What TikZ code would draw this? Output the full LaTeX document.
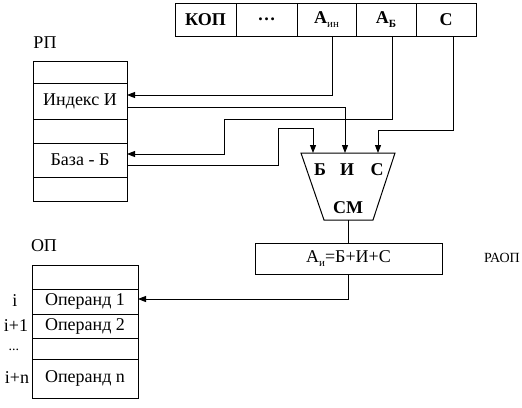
\documentclass[tikz,border=0pt]{standalone}
\usepackage{fontspec}
\setmainfont{Liberation Serif}
\usetikzlibrary{arrows.meta,calc}
\newcommand{\lowsub}[1]{\raisebox{-0.45ex}{\fontsize{11}{12}\selectfont #1}}
\begin{document}
\begin{tikzpicture}[x=1pt,y=-1pt,
  cell/.style={draw,line width=1pt,inner sep=0pt,outer sep=0pt,font=\fontsize{18}{20}\selectfont},
  lbl/.style={inner sep=0pt,font=\fontsize{18}{20}\selectfont},
  blbl/.style={inner sep=0pt,font=\fontsize{18}{20}\selectfont\bfseries},
  conn/.style={line width=1pt},
  arr/.style={conn,-{Triangle[length=8pt,width=6pt]}}]
\useasboundingbox (0,0) rectangle (522,407);
% instruction register
\node[cell,minimum width=61pt,minimum height=33pt] (kop) at (205.5,19.5) {\textbf{КОП}};
\node[cell,minimum width=61pt,minimum height=33pt] (dots) at (266.5,19.5) {\textbf{\dots}};
\node[cell,minimum width=59pt,minimum height=33pt] (ain) at (326.5,19.5) {\textbf{А}\lowsub{ин}};
\node[cell,minimum width=60pt,minimum height=33pt] (ab) at (386,19.5) {\textbf{А\lowsub{Б}}};
\node[cell,minimum width=60pt,minimum height=33pt] (c) at (446,19.5) {\textbf{С}};
% RP
\node[lbl] (rp) at (45,43) {РП};
\node[cell,minimum width=94pt,minimum height=22pt] (r1) at (80,72) {};
\node[cell,minimum width=94pt,minimum height=36pt] (ri) at (80,101) {Индекс И};
\node[cell,minimum width=94pt,minimum height=24pt] (r3) at (80,131) {};
\node[cell,minimum width=94pt,minimum height=34pt] (rb) at (80,160) {База - Б};
\node[cell,minimum width=94pt,minimum height=24pt] (r5) at (80,189) {};
% adder
\draw[conn] (301,153) -- (395,153) -- (373,220) -- (324,220) -- cycle;
\coordinate (inB) at (313,153);
\coordinate (inI) at (345,153);
\coordinate (inC) at (378,153);
\coordinate (addout) at (348,220);
\node[blbl] (lb) at (320,170) {Б};
\node[blbl] (li) at (347,170) {И};
\node[blbl] (lc) at (377,170) {С};
\node[blbl] (cm) at (348,208) {СМ};
% address register
\node[cell,minimum width=187pt,minimum height=31pt] (sum) at (348.5,258.5) {А\lowsub{и}=Б+И+С};
\node[lbl,font=\fontsize{14}{16}\selectfont] (raop) at (502,258) {РАОП};
% OP
\node[lbl] (op) at (44,246) {ОП};
\node[cell,minimum width=106pt,minimum height=24pt] (o1) at (85,277) {};
\node[cell,minimum width=106pt,minimum height=25pt] (o2) at (85,301.5) {Операнд 1};
\node[cell,minimum width=106pt,minimum height=24pt] (o3) at (85,326) {Операнд 2};
\node[cell,minimum width=106pt,minimum height=21pt] (o4) at (85,348.5) {};
\node[cell,minimum width=106pt,minimum height=39pt] (o5) at (85,378.5) {Операнд n};
\node[lbl] (li1) at (15,301) {i};
\node[lbl] (li2) at (16,326) {i+1};
\node[lbl,font=\fontsize{14}{16}\selectfont] (li3) at (14,350) {...};
\node[lbl] (li4) at (17,378) {i+n};
% connectors
\draw[arr] ($(ain.south)+(5.5,0)$) |- ($(ri.east)+(0,-6)$);
\draw[arr] ($(ri.east)+(0,6)$) -| (inI);
\draw[arr] ($(ab.south)+(6,0)$) |- (224,119) |- ($(rb.east)+(0,-6)$);
\draw[arr] ($(rb.east)+(0,5)$) -| (278,128) -| (inB);
\draw[arr] ($(c.south)+(7,0)$) |- (378,130) -- (inC);
\draw[conn] (addout) -- (sum.north -| addout);
\draw[arr] (sum.south -| addout) |- ($(o2.east)+(0,-2.5)$);
\end{tikzpicture}
\end{document}
